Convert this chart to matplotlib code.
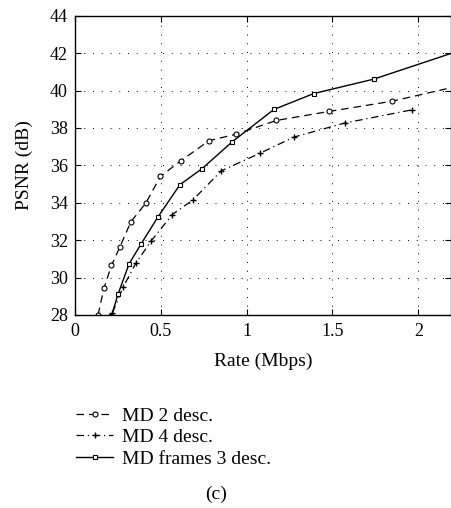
import matplotlib
matplotlib.use("Agg")
import matplotlib.pyplot as plt

plt.rcParams['font.family'] = ['Liberation Serif', 'DejaVu Serif']

# MD 2 descriptions
md2_rate = [0.135, 0.169, 0.213, 0.262, 0.326, 0.413, 0.498, 0.618, 0.781, 0.94, 1.173, 1.478, 1.847, 2.3]
md2_psnr = [28.0, 29.42, 30.65, 31.63, 32.98, 33.98, 35.41, 36.25, 37.32, 37.67, 38.40, 38.88, 39.43, 40.38]

# MD 4 descriptions
md4_rate = [0.219, 0.281, 0.355, 0.446, 0.568, 0.688, 0.853, 1.076, 1.275, 1.57, 1.963]
md4_psnr = [28.12, 29.49, 30.77, 31.98, 33.37, 34.16, 35.71, 36.64, 37.51, 38.26, 38.97]

# MD frames 3 descriptions
mdf_rate = [0.213, 0.252, 0.316, 0.385, 0.483, 0.612, 0.74, 0.916, 1.159, 1.391, 1.74, 2.3]
mdf_psnr = [27.95, 29.13, 30.74, 31.79, 33.23, 34.97, 35.82, 37.26, 38.99, 39.84, 40.61, 42.32]

labels = ['MD 2 desc.', 'MD 4 desc.', 'MD frames 3 desc.']

fig = plt.figure(figsize=(4.51, 5.08), dpi=100)
ax = fig.add_axes([0.166, 0.380, 0.834, 0.589])

l1, = ax.plot(md2_rate, md2_psnr, color='black', lw=0.9, ls=(0, (6, 4)),
              marker='o', ms=3.6, mfc='white', mec='black', mew=0.8)
l2, = ax.plot(md4_rate, md4_psnr, color='black', lw=0.9, ls=(0, (6, 3, 1, 3)),
              marker='+', ms=4.5, mew=1.0)
l3, = ax.plot(mdf_rate, mdf_psnr, color='black', lw=1.0, ls='-',
              marker='s', ms=3.2, mfc='white', mec='black', mew=0.8)

ax.set_xlim(0, 2.19)
ax.set_ylim(28, 44)
ax.set_xticks([0, 0.5, 1, 1.5, 2])
ax.set_xticklabels(['0', '0.5', '1', '1.5', '2'])
ax.set_yticks(range(28, 45, 2))
ax.grid(True, color='black', ls=(0, (1, 8)), lw=0.7)
ax.tick_params(direction='in', top=True, right=True, labelsize=13, length=4, width=0.8)
ax.tick_params(axis='x', pad=6)
ax.tick_params(axis='y', pad=5)
for s in ax.spines.values():
    s.set_linewidth(1.0)

ax.set_xlabel('Rate (Mbps)', fontsize=14, labelpad=9)
ax.set_ylabel('PSNR (dB)', fontsize=14, labelpad=12)

fig.legend([l1, l2, l3], labels, loc='upper left', bbox_to_anchor=(0.148, 0.218),
           frameon=False, fontsize=14, handlelength=1.9, handletextpad=0.45,
           labelspacing=0.2, borderpad=0)

fig.text(0.48, 0.026, '(c)', fontsize=14, ha='center', va='center')

fig.savefig('out.png', dpi=100)
